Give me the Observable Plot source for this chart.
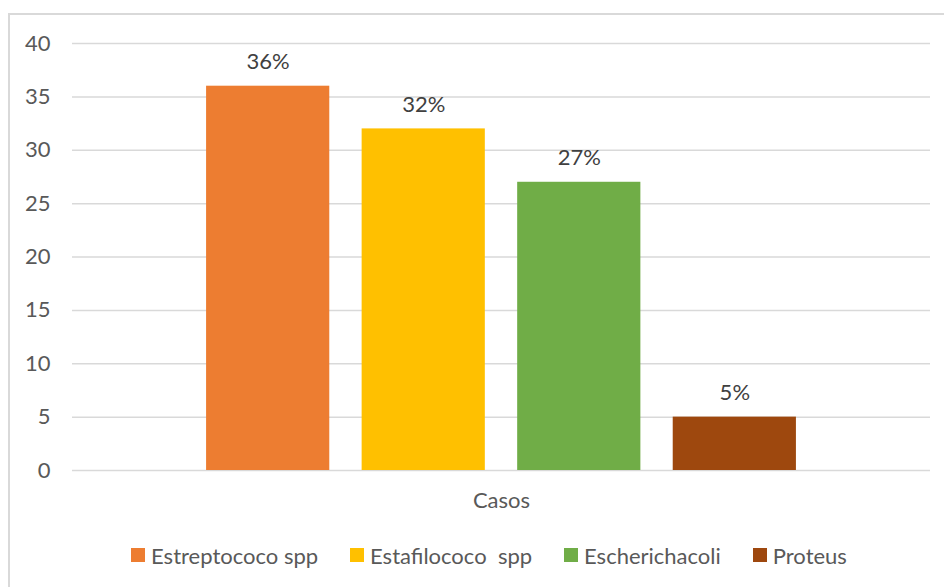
<!DOCTYPE html>
<html>
<head>
<meta charset="utf-8">
<script src="https://cdn.jsdelivr.net/npm/d3@7"></script>
<script src="https://cdn.jsdelivr.net/npm/@observablehq/plot@0.6"></script>
<style>
  body { margin: 0; background: #fff; font-family: Lato, "Open Sans", sans-serif; }
  #chart { position: relative; width: 944px; height: 587px; overflow: hidden; background: #fff; }
  #frame { position: absolute; left: 8px; top: 13px; width: 962px; height: 620px;
           border: 2px solid #d9d9d9; box-sizing: border-box; pointer-events: none; }
  #plot svg { display: block; }
  #legend { position: absolute; left: 8px; top: 530px; width: 962px; height: 50px;
            display: flex; justify-content: center; align-items: center; gap: 32px;
            font-size: 22px; color: #595959; }
  .item { display: flex; align-items: center; gap: 6px; white-space: pre; }
  .swatch { width: 14px; height: 14px; }
</style>
</head>
<body>
<div id="chart">
  <div id="plot"></div>
  <div id="legend"></div>
  <div id="frame"></div>
</div>
<script>
// Cases by organism
const category = "Casos";
const series = ["Estreptococo spp", "Estafilococo  spp", "Escherichacoli", "Proteus"];
const casos = [36, 32, 27, 5];
const colors = ["#ed7d31", "#ffc000", "#70ad47", "#9e480e"];
const yTicks = [0, 5, 10, 15, 20, 25, 30, 35, 40];

const total = d3.sum(casos);
const data = series.map((s, i) => ({
  category,
  series: s,
  value: casos[i],
  label: Math.round(casos[i] / total * 100) + "%"
}));

const chart = Plot.plot({
  width: 944,
  height: 530,
  marginLeft: 72,
  marginRight: 14,
  marginTop: 43,
  marginBottom: 60,
  style: { fontFamily: "Lato, 'Open Sans', sans-serif", fontSize: "22px", color: "#595959", background: "transparent" },
  fx: { domain: [category], padding: 0, label: null, axis: "bottom", tickSize: 0, tickPadding: 22 },
  x: { domain: series, paddingInner: 0.208, paddingOuter: 0.862, round: false, axis: null },
  y: { domain: [0, 40], ticks: yTicks, tickSize: 0, tickPadding: 22, label: null },
  color: { domain: series, range: colors },
  marks: [
    Plot.gridY(yTicks, { stroke: "#d9d9d9", strokeOpacity: 1, strokeWidth: 1.5 }),
    Plot.barY(data, { fx: "category", x: "series", y: "value", fill: "series" }),
    Plot.text(data, { fx: "category", x: "series", y: "value", text: "label", dy: -24, fill: "#404040", fontSize: 22 })
  ]
});
document.getElementById("plot").appendChild(chart);

// Legend
const legend = d3.select("#legend");
series.forEach((s, i) => {
  const item = legend.append("div").attr("class", "item");
  item.append("div").attr("class", "swatch").style("background", colors[i]);
  item.append("span").text(s);
});
</script>
</body>
</html>
